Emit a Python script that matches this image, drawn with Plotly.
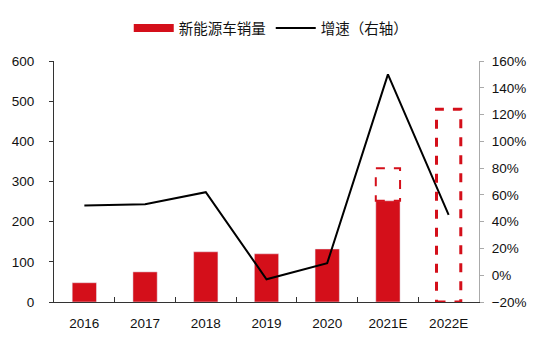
import plotly.graph_objects as go

years = ["2016", "2017", "2018", "2019", "2020", "2021E", "2022E"]
sales = [48, 75, 125, 120, 132, 252, None]
sales_upper = [None, None, None, None, None, 333, 480]
sales_lower = [None, None, None, None, None, 252, 0]
growth = [52, 53, 62, -3, 9, 150, 45]

red = "#d40f1a"
font_fam = "Liberation Sans, Noto Sans CJK SC, sans-serif"

fig = go.Figure()
fig.add_trace(go.Bar(x=years, y=sales, name="新能源车销量", marker_color=red,
                     width=0.4, yaxis="y", showlegend=False))
# legend swatch for bars (wide rectangle as in reference)
fig.add_trace(go.Scatter(x=[None], y=[None], name="新能源车销量", mode="lines",
                         line=dict(color=red, width=8), yaxis="y"))
fig.add_trace(go.Scatter(x=years, y=growth, name="增速（右轴）", mode="lines",
                         line=dict(color="black", width=2), yaxis="y2"))

bw = 0.2
for i, (lo, hi) in enumerate(zip(sales_lower, sales_upper)):
    if hi is None:
        continue
    w = 3 if lo == 0 else 2
    fig.add_shape(type="rect", xref="x", yref="y", x0=i - bw, x1=i + bw, y0=lo, y1=hi,
                  line=dict(color=red, width=w, dash="dash"), fillcolor="rgba(0,0,0,0)")

fig.update_layout(
    width=550, height=344,
    margin=dict(l=54, r=71, t=43, b=42),
    plot_bgcolor="white", paper_bgcolor="white",
    font=dict(family=font_fam, size=13.5, color="#111"),
    showlegend=True,
    legend=dict(orientation="h", x=0.51, xanchor="center", y=1.07, yanchor="bottom",
                font=dict(size=14.5), itemwidth=40, traceorder="normal"),
    xaxis=dict(type="category", showline=True, linecolor="#333", linewidth=1,
               ticks="inside", tickson="boundaries", ticklen=5, tickcolor="#333",
               ticklabelstandoff=9, range=[-0.5, 6.5], showgrid=False),
    yaxis=dict(range=[0, 600], dtick=100, showline=True, linecolor="#333", linewidth=1,
               ticks="outside", ticklen=4, tickcolor="#333", showgrid=False,
               ticklabelstandoff=12, zeroline=False),
    yaxis2=dict(range=[-20, 160], dtick=20, overlaying="y", side="right",
                ticksuffix="%", showline=True, linecolor="#aaa", linewidth=1,
                ticks="outside", ticklen=4, tickcolor="#aaa", showgrid=False,
                ticklabelstandoff=5, zeroline=False),
)

fig.write_html("out.html")
